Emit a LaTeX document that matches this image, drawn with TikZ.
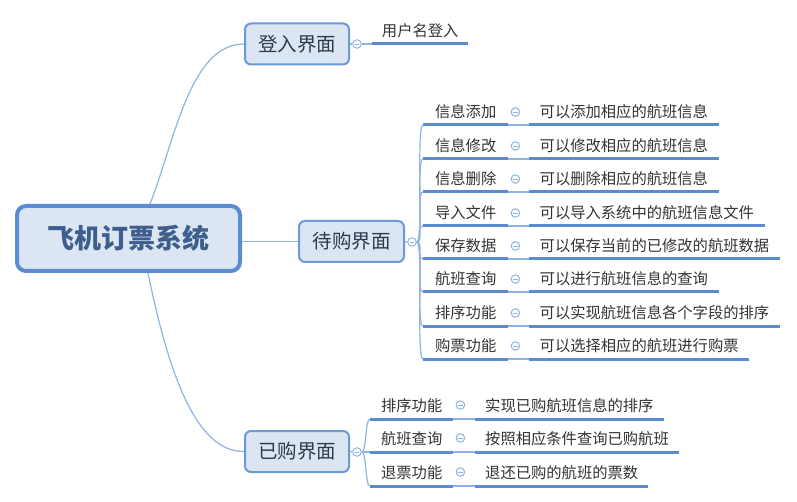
\documentclass[tikz,border=0pt]{standalone}
\usepackage{fontspec}
\newfontfamily\cjk{Noto Sans CJK SC}
\usetikzlibrary{calc,backgrounds}
\definecolor{boxfill}{HTML}{DCE6F2}
\definecolor{rootline}{HTML}{5B8CD2}
\definecolor{boxline}{HTML}{6A9AD8}
\definecolor{linkc}{HTML}{8DB4E2}
\definecolor{ulinec}{HTML}{5A8AD0}
\definecolor{roottext}{HTML}{3E5F8E}
\definecolor{boxtext}{HTML}{2D3A4F}
\definecolor{leaftext}{HTML}{333333}
\begin{document}
\begin{tikzpicture}[x=1pt,y=-1pt,
  rootbox/.style={draw=rootline,line width=4pt,fill=boxfill,rounded corners=9pt,
    minimum width=223pt,minimum height=65pt,inner sep=0pt,text=roottext,
    font=\cjk\bfseries\fontsize{27}{30}\selectfont},
  mainbox/.style={draw=boxline,line width=2pt,fill=boxfill,rounded corners=6pt,
    minimum width=104pt,minimum height=41pt,inner sep=0pt,text=boxtext,
    font=\cjk\fontsize{19.5}{22}\selectfont},
  leaf/.style={inner sep=0pt,minimum height=26pt,text=leaftext,anchor=south west,
    font=\cjk\fontsize{15.3}{18}\selectfont},
  valleaf/.style={leaf,inner xsep=10.5pt},
  foldbtn/.style={circle,draw=linkc,fill=white,minimum size=8.5pt,inner sep=0pt,line width=1pt,
    path picture={\draw[linkc,line width=0.9pt]
      ([xshift=-2.2pt]path picture bounding box.center) --
      ([xshift=2.2pt]path picture bounding box.center);}},
  link/.style={draw=linkc,line width=1.2pt},
  uline/.style={draw=ulinec,line width=3pt}]
\useasboundingbox (0,0) rectangle (797,502);

% root and main boxes
\node[rootbox] (root) at (128.5,238.5) {飞机订票系统};
\node[mainbox] (m1) at (297,44) {登入界面};
\node[mainbox,minimum width=105pt] (m2) at (351.5,241.5) {待购界面};
\node[mainbox] (m3) at (297,451.5) {已购界面};

\node[foldbtn] (b1) at (357,44) {};
\node[foldbtn] (b2) at (412,242) {};
\node[foldbtn] (b3) at (357,452) {};

\coordinate (rtop) at (150,204);
\coordinate (rbot) at (148,273);

\begin{scope}[on background layer]
  \draw[link] (rtop) .. controls (175,140) and (190,44) .. (m1.west);
  \draw[link] (rbot) .. controls (168,370) and (195,452) .. (m3.west);
  \draw[link] (root.east |- m2.west) -- (m2.west);
  \draw[link] (m1.east) -- (b1.west);
  \draw[link] (m2.east) -- (b2.west);
  \draw[link] (m3.east) -- (b3.west);
\end{scope}

% login child
\node[leaf,minimum width=96pt] (l1) at (372,44) {用户名登入};
\draw[uline] (l1.south west) -- (l1.south east);
\draw[link] (b1.east) -- (l1.south west);

% pending purchase children
\foreach \i/\yy/\k/\v in {
  1/125/信息添加/可以添加相应的航班信息,
  2/159/信息修改/可以修改相应的航班信息,
  3/192/信息删除/可以删除相应的航班信息,
  4/226/导入文件/可以导入系统中的航班信息文件,
  5/259/保存数据/可以保存当前的已修改的航班数据,
  6/292/航班查询/可以进行航班信息的查询,
  7/326/排序功能/可以实现航班信息各个字段的排序,
  8/359/购票功能/可以选择相应的航班进行购票}{
  \node[leaf,minimum width=85pt] (a\i) at (423,\yy) {\k};
  \node[valleaf] (av\i) at (529,\yy) {\v};
  \node[foldbtn] (ab\i) at ([xshift=7pt,yshift=13pt]a\i.south east) {};
  \draw[uline] (a\i.south west) -- (a\i.south east);
  \draw[uline] (av\i.south west) -- (av\i.south east);
  \draw[link] (a\i.south east) -- (av\i.south west);
  \draw[link] (b2.east) .. controls +(7,0) and +(-7,0) .. (a\i.south west);
}

% purchased children
\foreach \i/\yy/\k/\v in {
  1/419/排序功能/实现已购航班信息的排序,
  2/452/航班查询/按照相应条件查询已购航班,
  3/486/退票功能/退还已购的航班的票数}{
  \node[leaf,minimum width=83pt] (p\i) at (370,\yy) {\k};
  \node[valleaf,inner xsep=10pt] (pv\i) at (475,\yy) {\v};
  \node[foldbtn] (pb\i) at ([xshift=7pt,yshift=14pt]p\i.south east) {};
  \draw[uline] (p\i.south west) -- (p\i.south east);
  \draw[uline] (pv\i.south west) -- (pv\i.south east);
  \draw[link] (p\i.south east) -- (pv\i.south west);
  \draw[link] (b3.east) .. controls +(5,0) and +(-5,0) .. (p\i.south west);
}
\end{tikzpicture}
\end{document}
